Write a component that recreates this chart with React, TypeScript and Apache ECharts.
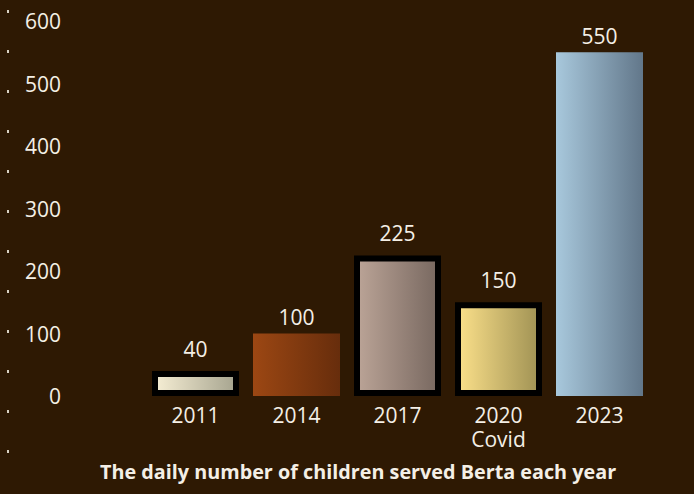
import React, { useEffect, useRef } from "react";
import * as echarts from "echarts";

const categories = ["2011", "2014", "2017", "2020\nCovid", "2023"];
const values = [40, 100, 225, 150, 550];
const yTicks = [0, 100, 200, 300, 400, 500, 600];
const gradientStops = [
  ["#f6eed4", "#a6a48f"],
  ["#9c4713", "#672d0c"],
  ["#bba497", "#786860"],
  ["#fbe08a", "#a09254"],
  ["#a8c8dc", "#62778a"],
];
const bordered = [true, false, true, true, false];
const titleText = "The daily number of children served Berta each year";

export default function App() {
  const ref = useRef<HTMLDivElement>(null);
  useEffect(() => {
    document.body.style.margin = "0";
    document.body.style.background = "#2e1903";
    if (!ref.current) return;
    const chart = echarts.init(ref.current, null, { renderer: "svg" });
    const font = "'Open Sans', 'DejaVu Sans', sans-serif";
    const textColor = "#f4efe6";
    const dots = Array.from({ length: 12 }, (_, k) => ({
      type: "rect",
      shape: { x: 7, y: 10 + 40 * k, width: 2, height: 3 },
      style: { fill: "#d9d2c4" },
      silent: true,
    }));
    chart.setOption({
      animation: false,
      backgroundColor: "#2e1903",
      textStyle: { fontFamily: font },
      title: {
        text: titleText,
        left: 95,
        top: 456,
        textStyle: { color: textColor, fontSize: 19.8, fontWeight: "bold", fontFamily: font },
      },
      grid: { left: 145, right: 44, top: 21, bottom: 98 },
      xAxis: {
        type: "category",
        data: categories,
        axisLine: { show: false },
        axisTick: { show: false },
        axisLabel: { color: textColor, fontSize: 21, lineHeight: 24, margin: 7, fontFamily: font },
      },
      yAxis: {
        type: "value",
        min: 0,
        max: 600,
        interval: 100,
        splitLine: { show: false },
        axisLine: { show: false },
        axisTick: { show: false },
        axisLabel: {
          color: textColor,
          fontSize: 21,
          margin: 84,
          fontFamily: font,
          formatter: (v: number) => (yTicks.includes(v) ? String(v) : ""),
        },
      },
      series: [
        {
          type: "bar",
          barWidth: 87,
          data: values.map((v, i) => ({
            value: v,
            itemStyle: {
              color: new echarts.graphic.LinearGradient(0, 0, 1, 0, [
                { offset: 0, color: gradientStops[i][0] },
                { offset: 1, color: gradientStops[i][1] },
              ]),
              borderColor: bordered[i] ? "#000000" : "transparent",
              borderWidth: bordered[i] ? 6 : 0,
            },
            label: { distance: bordered[i] ? 12 : 6 },
          })),
          label: {
            show: true,
            position: "top",
            color: textColor,
            fontSize: 21,
            fontFamily: font,
          },
        },
      ],
      graphic: dots,
    });
    return () => chart.dispose();
  }, []);
  return <div ref={ref} style={{ width: 694, height: 494 }} />;
}
